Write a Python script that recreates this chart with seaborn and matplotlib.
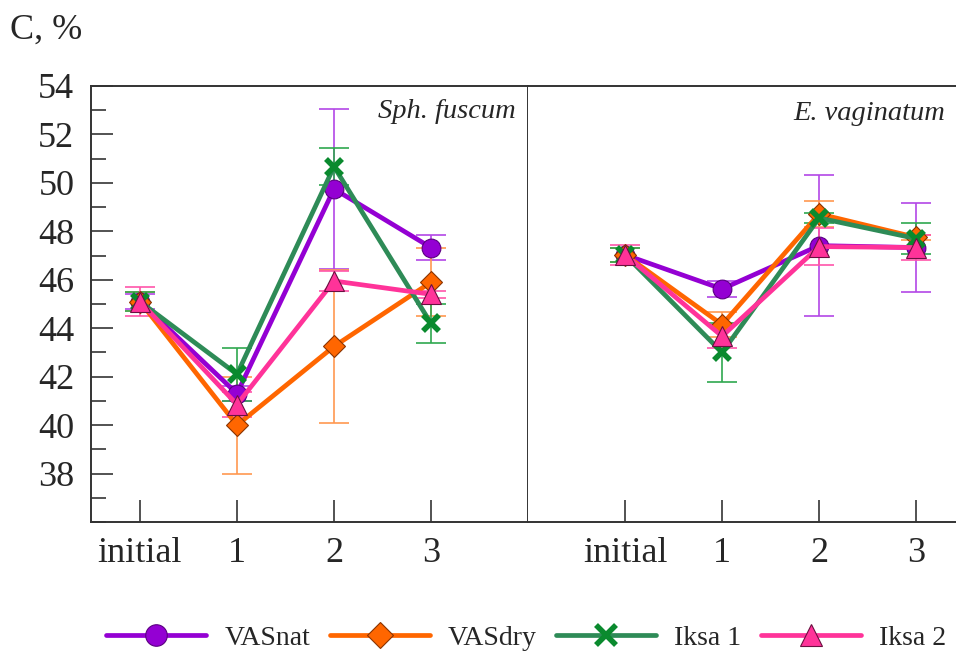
import numpy as np
import pandas as pd
import matplotlib
matplotlib.use('Agg')
import matplotlib.pyplot as plt
from matplotlib.ticker import MultipleLocator
from matplotlib.lines import Line2D
import seaborn as sns

# ── Data ──────────────────────────────────────────────────────────────────────
stages = ['initial', '1', '2', '3']
series = ['VASnat', 'VASdry', 'Iksa 1', 'Iksa 2']

# Sph. fuscum panel
fus_vasnat = [45.1, 41.3, 49.75, 47.33]
fus_vasdry = [45.1, 40.0, 43.25, 45.9]
fus_iksa1  = [45.1, 42.1, 50.67, 44.2]
fus_iksa2  = [45.1, 40.85, 45.95, 45.4]
fus_vasnat_err = [0.3, 0.3, 3.3, 0.53]
fus_vasdry_err = [0.4, 2.0, 3.15, 1.4]
fus_iksa1_err  = [0.4, 1.1, 0.76, 0.8]
fus_iksa2_err  = [0.6, 0.52, 0.4, 0.15]

# E. vaginatum panel
vag_vasnat = [47.03, 45.62, 47.41, 47.33]
vag_vasdry = [47.03, 44.15, 48.72, 47.75]
vag_iksa1  = [47.03, 43.0, 48.55, 47.7]
vag_iksa2  = [47.03, 43.67, 47.37, 47.33]
vag_vasnat_err = [0.3, 0.33, 2.9, 1.85]
vag_vasdry_err = [0.3, 0.5, 0.55, 0.1]
vag_iksa1_err  = [0.3, 1.2, 0.2, 0.64]
vag_iksa2_err  = [0.41, 0.47, 0.78, 0.52]

# ── Styling ───────────────────────────────────────────────────────────────────
sns.set_style('white')
plt.rcParams['font.family'] = ['Liberation Serif', 'DejaVu Serif']

line_col = {'VASnat': '#9400D3', 'VASdry': '#FF6600', 'Iksa 1': '#2E8B57', 'Iksa 2': '#FF3399'}
err_col  = {'VASnat': '#B347E6', 'VASdry': '#FF9850', 'Iksa 1': '#2FA84F', 'Iksa 2': '#FF55AA'}
mk       = {'VASnat': 'o', 'VASdry': 'D', 'Iksa 1': 'x', 'Iksa 2': '^'}
mk_size  = {'VASnat': 13.5, 'VASdry': 11, 'Iksa 1': 12, 'Iksa 2': 14}
mk_face  = {'VASnat': '#9400D3', 'VASdry': '#FF6600', 'Iksa 1': '#0A8A2E', 'Iksa 2': '#FF3399'}
mk_edge  = {'VASnat': '#5A0080', 'VASdry': '#8A3300', 'Iksa 1': '#0A8A2E', 'Iksa 2': '#6A1040'}
mk_ew    = {'VASnat': 0.8, 'VASdry': 0.8, 'Iksa 1': 4.0, 'Iksa 2': 0.8}

panels = [
    ('Sph. fuscum', [fus_vasnat, fus_vasdry, fus_iksa1, fus_iksa2],
     [fus_vasnat_err, fus_vasdry_err, fus_iksa1_err, fus_iksa2_err]),
    ('E. vaginatum', [vag_vasnat, vag_vasdry, vag_iksa1, vag_iksa2],
     [vag_vasnat_err, vag_vasdry_err, vag_iksa1_err, vag_iksa2_err]),
]

fig = plt.figure(figsize=(9.56, 6.53), dpi=100)
ax_l = fig.add_axes([91 / 956, 1 - 522 / 653, 437 / 956, 436 / 653])
ax_r = fig.add_axes([528 / 956, 1 - 522 / 653, 428 / 956, 436 / 653], sharey=ax_l)
axes = [ax_l, ax_r]
xlims = [(-0.505, 4.0), (-1.0, 3.41)]
title_pos = [(516, 112), (945, 113)]   # right edge / centre, in pixels

x = np.arange(len(stages))

for ax, (title, vals, errs), xl, tp in zip(axes, panels, xlims, title_pos):
    for name, v, e in zip(series, vals, errs):
        ax.errorbar(x, v, yerr=e, fmt='none', ecolor=err_col[name],
                    elinewidth=1.2, capsize=11, capthick=1.2, zorder=1)
    for name, v in zip(series, vals):
        df = pd.DataFrame({'x': x, 'C': v})
        sns.lineplot(data=df, x='x', y='C', ax=ax, color=line_col[name],
                     linewidth=3.4, marker=mk[name], markersize=mk_size[name],
                     markerfacecolor=mk_face[name], markeredgecolor=mk_edge[name],
                     markeredgewidth=mk_ew[name], zorder=3)
    ax.set_xlim(*xl)
    ax.set_xticks(x)
    ax.set_xticklabels(stages)
    ax.set_xlabel('')
    ax.set_ylabel('')
    ax.tick_params(axis='x', bottom=True, direction='in', length=16, width=1.3,
                   color='#444444', labelsize=26, pad=11)
    for sp in ax.spines.values():
        sp.set_color('#333333')
        sp.set_linewidth(1.4)
    fig.text(tp[0] / 956, 1 - tp[1] / 653, title, fontsize=20.5, style='italic',
             ha='right', va='center')

ax_l.set_ylim(36, 54)
ax_l.yaxis.set_major_locator(MultipleLocator(2))
ax_l.yaxis.set_minor_locator(MultipleLocator(1))
ax_l.set_yticks(np.arange(38, 55, 2))
ax_l.tick_params(axis='y', which='major', left=True, direction='in', length=16,
                 width=1.3, color='#444444', labelsize=26, pad=12)
ax_l.tick_params(axis='y', which='minor', left=True, direction='in', length=11,
                 width=1.3, color='#444444')
ax_r.tick_params(axis='y', which='both', left=False, labelleft=False)
ax_r.spines['right'].set_visible(False)
ax_r.spines['left'].set_visible(False)

fig.text(10 / 956, 1 - 30 / 653, 'C, %', fontsize=26, ha='left', va='center')

# ── Legend ────────────────────────────────────────────────────────────────────
handles = [Line2D([0], [0], color=line_col[n], linewidth=3.4, marker=mk[n],
                  markersize=mk_size[n] + 2, markerfacecolor=mk_face[n],
                  markeredgecolor=mk_edge[n], markeredgewidth=mk_ew[n])
           for n in series]
fig.legend(handles, series, loc='center', bbox_to_anchor=(526 / 956, 1 - 638 / 653),
           ncol=4, frameon=False, fontsize=20, handlelength=3.6,
           columnspacing=0.7, handletextpad=0.65)

fig.savefig('out.png', dpi=100)
